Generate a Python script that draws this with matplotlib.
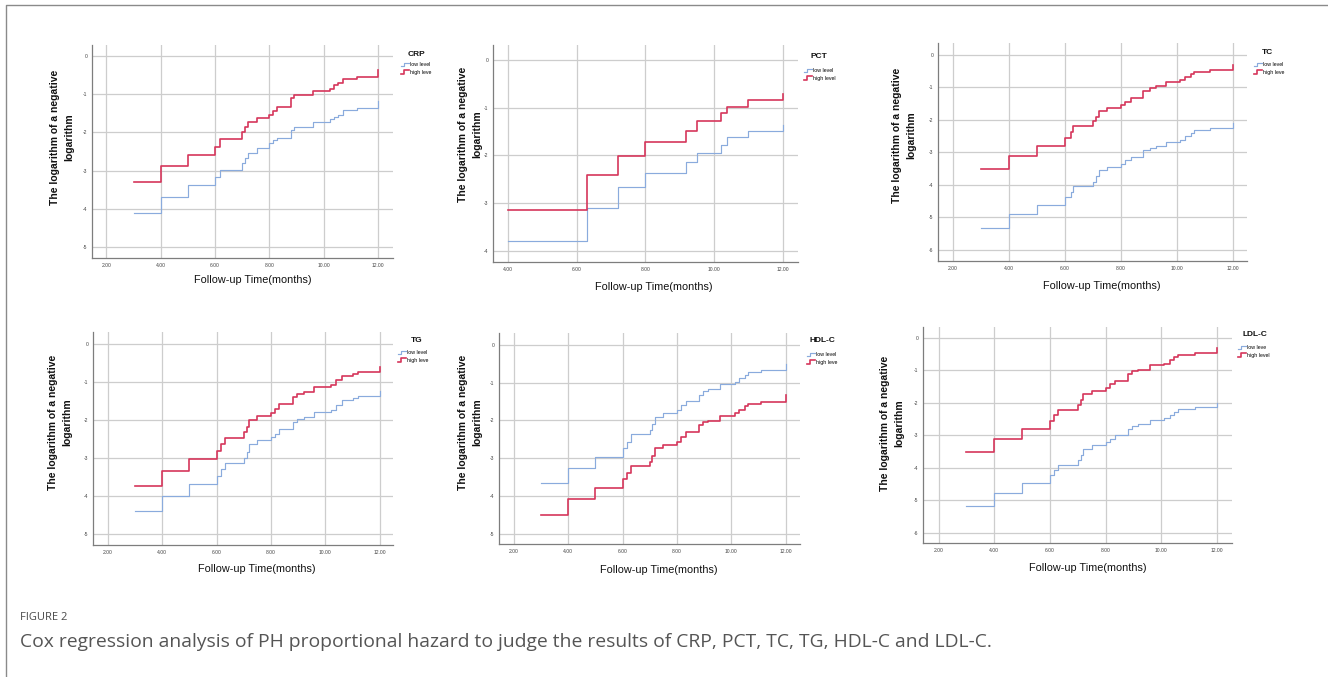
import numpy as np
import matplotlib
matplotlib.use("Agg")
import matplotlib.pyplot as plt
from matplotlib.lines import Line2D
from matplotlib.legend_handler import HandlerBase

plt.rcParams["font.family"] = ["Liberation Sans", "DejaVu Sans"]
plt.rcParams["axes.unicode_minus"] = False

# =============================================================================
# Data
# =============================================================================

crp_t    = [3.0, 4.0, 5.0, 6.0, 6.2, 7.0, 7.1, 7.2, 7.55, 8.0, 8.15, 8.3, 8.8, 8.9, 9.6, 10.25, 10.4, 10.55, 10.7, 11.25, 12.0]
crp_low  = [-4.11, -3.68, -3.39, -3.16, -2.98, -2.81, -2.68, -2.55, -2.42, -2.29, -2.20, -2.14, -1.94, -1.87, -1.72, -1.66, -1.60, -1.55, -1.42, -1.37, -1.18]
crp_high = [-3.29, -2.88, -2.59, -2.37, -2.16, -1.98, -1.87, -1.72, -1.63, -1.54, -1.44, -1.33, -1.11, -1.02, -0.91, -0.85, -0.76, -0.70, -0.61, -0.56, -0.37]

pct_t    = [4.0, 6.29, 7.2, 8.0, 9.2, 9.5, 10.2, 10.38, 11.0, 12.0]
pct_low  = [-3.80, -3.09, -2.67, -2.37, -2.14, -1.94, -1.78, -1.62, -1.48, -1.36]
pct_high = [-3.15, -2.42, -2.01, -1.71, -1.48, -1.28, -1.11, -0.98, -0.84, -0.71]

tc_t    = [3.0, 4.0, 5.0, 6.0, 6.2, 6.3, 7.0, 7.1, 7.2, 7.5, 8.0, 8.15, 8.35, 8.8, 9.05, 9.25, 9.6, 10.1, 10.3, 10.5, 10.6, 11.2, 12.0]
tc_low  = [-5.33, -4.90, -4.62, -4.38, -4.21, -4.03, -3.90, -3.74, -3.54, -3.44, -3.35, -3.23, -3.13, -2.94, -2.87, -2.82, -2.67, -2.62, -2.51, -2.41, -2.31, -2.26, -2.10]
tc_high = [-3.51, -3.10, -2.80, -2.56, -2.36, -2.20, -2.05, -1.92, -1.72, -1.64, -1.54, -1.44, -1.32, -1.13, -1.03, -0.97, -0.84, -0.79, -0.67, -0.58, -0.54, -0.46, -0.31]

tg_t    = [3.0, 4.0, 5.0, 6.0, 6.15, 6.3, 7.0, 7.1, 7.2, 7.5, 8.0, 8.15, 8.3, 8.8, 8.95, 9.2, 9.6, 10.2, 10.4, 10.6, 11.0, 11.2, 12.0]
tg_low  = [-4.39, -3.99, -3.69, -3.46, -3.29, -3.12, -3.00, -2.85, -2.64, -2.53, -2.44, -2.36, -2.24, -2.05, -1.98, -1.92, -1.79, -1.73, -1.61, -1.48, -1.42, -1.38, -1.25]
tg_high = [-3.73, -3.33, -3.03, -2.81, -2.64, -2.46, -2.31, -2.18, -1.99, -1.89, -1.81, -1.70, -1.59, -1.40, -1.33, -1.27, -1.13, -1.07, -0.96, -0.85, -0.79, -0.74, -0.61]

hdl_t    = [3.0, 4.0, 5.0, 6.0, 6.15, 6.3, 7.0, 7.1, 7.2, 7.5, 8.0, 8.15, 8.35, 8.8, 8.95, 9.15, 9.6, 10.15, 10.3, 10.5, 10.6, 11.1, 12.0]
hdl_low  = [-3.66, -3.26, -2.96, -2.73, -2.56, -2.36, -2.25, -2.09, -1.90, -1.81, -1.72, -1.59, -1.48, -1.32, -1.23, -1.17, -1.04, -0.99, -0.88, -0.79, -0.72, -0.66, -0.51]
hdl_high = [-4.50, -4.08, -3.79, -3.55, -3.40, -3.22, -3.09, -2.94, -2.73, -2.65, -2.56, -2.44, -2.32, -2.12, -2.05, -2.01, -1.88, -1.81, -1.72, -1.63, -1.57, -1.52, -1.34]

ldl_t    = [3.0, 4.0, 5.0, 6.0, 6.15, 6.3, 7.0, 7.1, 7.2, 7.5, 8.0, 8.15, 8.35, 8.8, 8.95, 9.15, 9.6, 10.1, 10.3, 10.45, 10.6, 11.2, 12.0]
ldl_low  = [-5.17, -4.77, -4.46, -4.23, -4.06, -3.90, -3.77, -3.62, -3.41, -3.31, -3.21, -3.10, -3.00, -2.80, -2.72, -2.66, -2.52, -2.47, -2.36, -2.28, -2.19, -2.13, -2.00]
ldl_high = [-3.51, -3.10, -2.80, -2.56, -2.38, -2.21, -2.08, -1.92, -1.72, -1.64, -1.54, -1.43, -1.33, -1.12, -1.03, -0.98, -0.84, -0.79, -0.69, -0.59, -0.51, -0.45, -0.30]

panel_names   = ["CRP", "PCT", "TC", "TG", "HDL-C", "LDL-C"]
low_labels    = ["low level", "low level", "low level", "low level", "low level", "low leve"]
high_labels   = ["high leve", "high level", "high leve", "high leve", "high leve", "high level"]
x_ticks       = [[2, 4, 6, 8, 10, 12], [4, 6, 8, 10, 12], [2, 4, 6, 8, 10, 12],
                 [2, 4, 6, 8, 10, 12], [2, 4, 6, 8, 10, 12], [2, 4, 6, 8, 10, 12]]
y_ticks       = [[0, -1, -2, -3, -4, -5], [0, -1, -2, -3, -4], [0, -1, -2, -3, -4, -5, -6],
                 [0, -1, -2, -3, -4, -5], [0, -1, -2, -3, -4, -5], [0, -1, -2, -3, -4, -5, -6]]

Y_LABEL = "The logarithm of a negative\nlogarithm"
X_LABEL = "Follow-up Time(months)"
CAPTION_HEAD = "FIGURE 2"
CAPTION = ("Cox regression analysis of PH proportional hazard to judge the results of "
           "CRP, PCT, TC, TG, HDL-C and LDL-C.")

series = [(crp_t, crp_low, crp_high), (pct_t, pct_low, pct_high), (tc_t, tc_low, tc_high),
          (tg_t, tg_low, tg_high), (hdl_t, hdl_low, hdl_high), (ldl_t, ldl_low, ldl_high)]

# =============================================================================
# Layout (pixels in a 1328 x 677 canvas)
# =============================================================================

W, H = 1328, 677
# box: left, top, right, bottom ; legend entries anchor ; legend title centre ;
# ylabel centre ; xlabel centre
LAYOUT = [
    dict(box=(92, 45, 393, 258),    xlim=(1.47, 12.56), ylim=(-5.29, 0.29),
         leg=(401, 62), ttl=(416, 54), ylab=(62, 137), xlab=(253, 280)),
    dict(box=(493, 45, 798, 262),   xlim=(3.56, 12.45), ylim=(-4.23, 0.31),
         leg=(804, 68), ttl=(819, 56), ylab=(470, 134), xlab=(654, 287)),
    dict(box=(938, 43, 1247, 261),  xlim=(1.46, 12.51), ylim=(-6.34, 0.36),
         leg=(1254, 62), ttl=(1267, 53), ylab=(904, 135), xlab=(1102, 286)),
    dict(box=(93, 332, 393, 545),   xlim=(1.45, 12.49), ylim=(-5.28, 0.31),
         leg=(398, 350), ttl=(417, 340), ylab=(60, 422), xlab=(257, 569)),
    dict(box=(499, 333, 800, 544),  xlim=(1.45, 12.53), ylim=(-5.27, 0.31),
         leg=(807, 352), ttl=(822, 341), ylab=(470, 422), xlab=(659, 570)),
    dict(box=(923, 327, 1232, 543), xlim=(1.44, 12.54), ylim=(-6.32, 0.34),
         leg=(1238, 345), ttl=(1255, 335), ylab=(892, 423), xlab=(1088, 568)),
]

BLUE = "#8aabdd"
RED = "#d6365b"
GRID = "#cdcdcd"
SPINE = "#7d7d7d"


class StepHandler(HandlerBase):
    """Small step glyph like the SPSS legend."""

    def create_artists(self, legend, orig_handle, xdescent, ydescent,
                       width, height, fontsize, trans):
        x = np.array([0.0, 0.4, 0.4, 1.0]) * width - xdescent
        y = np.array([0.15, 0.15, 0.85, 0.85]) * height - ydescent
        ln = Line2D(x, y, color=orig_handle.get_color(),
                    lw=orig_handle.get_linewidth())
        ln.set_transform(trans)
        return [ln]


fig = plt.figure(figsize=(W / 100, H / 100), dpi=100)

# frame of the figure panel (top and left edges only)
fig.add_artist(Line2D([6 / W, 6 / W, 1.0], [0.0, 1 - 5 / H, 1 - 5 / H],
                      transform=fig.transFigure, color="#8a8a8a", lw=1.0))

for i, (name, (t, low, high), lay) in enumerate(zip(panel_names, series, LAYOUT)):
    l, tp, r, b = lay["box"]
    ax = fig.add_axes([l / W, 1 - b / H, (r - l) / W, (b - tp) / H])

    l1, = ax.plot(t, low, drawstyle="steps-post", color=BLUE, lw=0.85)
    l2, = ax.plot(t, high, drawstyle="steps-post", color=RED, lw=1.2)

    ax.set_xlim(*lay["xlim"])
    ax.set_ylim(*lay["ylim"])
    ax.set_xticks(x_ticks[i])
    ax.set_xticklabels([f"{v:.2f}" for v in x_ticks[i]])
    ax.set_yticks(y_ticks[i])
    ax.set_yticklabels([str(v) for v in y_ticks[i]])
    ax.tick_params(length=0, labelsize=3.6, colors="#444444", pad=3.5)
    ax.grid(True, color=GRID, lw=0.9)
    ax.set_axisbelow(True)
    for s in ("top", "right"):
        ax.spines[s].set_visible(False)
    for s in ("left", "bottom"):
        ax.spines[s].set_color(SPINE)
        ax.spines[s].set_linewidth(0.9)

    lx, ly = lay["leg"]
    ax.legend([l1, l2], [low_labels[i], high_labels[i]],
              loc="upper left", bbox_to_anchor=(lx / W, 1 - ly / H),
              bbox_transform=fig.transFigure, frameon=False, borderpad=0,
              borderaxespad=0, fontsize=3.8, handlelength=1.5,
              handleheight=1.0, handletextpad=0.2, labelspacing=0.45,
              handler_map={Line2D: StepHandler()})
    tx, ty = lay["ttl"]
    fig.text(tx / W, 1 - ty / H, name, ha="center", va="center",
             fontsize=6, fontweight="bold", color="#111111")

    yx, yy = lay["ylab"]
    fig.text(yx / W, 1 - yy / H, Y_LABEL, rotation=90, ha="center", va="center",
             multialignment="center", fontsize=7.5, fontweight="bold",
             linespacing=1.5, color="#111111")
    xx, xy = lay["xlab"]
    fig.text(xx / W, 1 - xy / H, X_LABEL, ha="center", va="center",
             fontsize=7.8, color="#111111")

fig.text(20 / W, 1 - 617 / H, CAPTION_HEAD, ha="left", va="center",
         fontsize=8, color="#4a4a4a", family=["Open Sans", "DejaVu Sans"])
fig.text(20 / W, 1 - 642 / H, CAPTION, ha="left", va="center",
         fontsize=13.9, color="#555555", family=["Open Sans", "DejaVu Sans"])

fig.savefig("out.png", dpi=100)
